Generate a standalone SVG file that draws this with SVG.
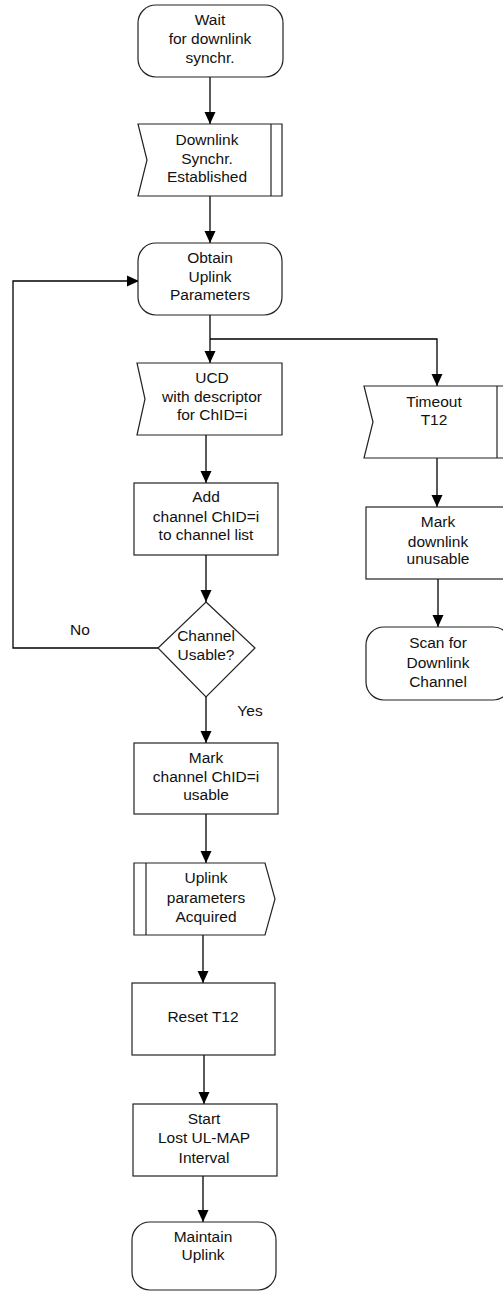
<svg xmlns="http://www.w3.org/2000/svg" width="503" height="1293" viewBox="0 0 503 1293">
<defs>
<style>
.s{fill:#fff;stroke:#222;stroke-width:1.2}
.c{fill:none;stroke:#000;stroke-width:1.3}
text{font-family:"Liberation Sans",Arial,sans-serif;font-size:15.5px;fill:#111;text-anchor:middle}
</style>
<marker id="a" markerWidth="12" markerHeight="12" refX="12" refY="6" orient="auto" markerUnits="userSpaceOnUse">
<path d="M0,0.5 L12,6 L0,11.5 Z" fill="#000"/>
</marker>
</defs>
<rect width="503" height="1293" fill="#fff"/>
<g id="connectors">
<path class="c" d="M210,77 V124" marker-end="url(#a)"/>
<path class="c" d="M210,196 V243" marker-end="url(#a)"/>
<path class="c" d="M210,315 V363" marker-end="url(#a)"/>
<path class="c" d="M210,339 H437 V386" marker-end="url(#a)"/>
<path class="c" d="M206,435 V483" marker-end="url(#a)"/>
<path class="c" d="M206,555 V602" marker-end="url(#a)"/>
<path class="c" d="M206,697 V743" marker-end="url(#a)"/>
<path class="c" d="M158,648 H13 V281 H139" marker-end="url(#a)"/>
<path class="c" d="M206,814 V863" marker-end="url(#a)"/>
<path class="c" d="M203,935 V983" marker-end="url(#a)"/>
<path class="c" d="M204,1055 V1104" marker-end="url(#a)"/>
<path class="c" d="M203,1176 V1222" marker-end="url(#a)"/>
<path class="c" d="M437,458 V507" marker-end="url(#a)"/>
<path class="c" d="M438,579 V627" marker-end="url(#a)"/>
<text x="80" y="635">No</text>
<text x="250" y="716">Yes</text>
</g>
<g id="wait">
<rect class="s" x="138" y="5" width="145" height="72" rx="18"/>
<text x="210" y="25">Wait</text>
<text x="210" y="44">for downlink</text>
<text x="210" y="63">synchr.</text>
</g>
<g id="dlsync">
<path class="s" d="M138,124 H282 V196 H138 L147,160 Z"/>
<path class="s" d="M271,124 V196"/>
<text x="207" y="145">Downlink</text>
<text x="207" y="164">Synchr.</text>
<text x="207" y="182">Established</text>
</g>
<g id="obtain">
<rect class="s" x="138" y="243" width="144" height="72" rx="18"/>
<text x="210" y="263">Obtain</text>
<text x="210" y="282">Uplink</text>
<text x="210" y="300">Parameters</text>
</g>
<g id="ucd">
<path class="s" d="M137,363 H282 V435 H137 L145,399 Z"/>
<text x="212" y="383">UCD</text>
<text x="212" y="402">with descriptor</text>
<text x="212" y="420">for ChID=i</text>
</g>
<g id="add">
<rect class="s" x="134" y="483" width="144" height="72"/>
<text x="206" y="502">Add</text>
<text x="206" y="522">channel ChID=i</text>
<text x="206" y="540">to channel list</text>
</g>
<g id="decision">
<path class="s" d="M206,602 L255,648 L206,697 L158,648 Z"/>
<text x="206" y="641">Channel</text>
<text x="206" y="660">Usable?</text>
</g>
<g id="markusable">
<rect class="s" x="134" y="743" width="144" height="71"/>
<text x="206" y="763">Mark</text>
<text x="206" y="782">channel ChID=i</text>
<text x="206" y="800">usable</text>
</g>
<g id="ulacq">
<path class="s" d="M134,863 H265 L275,899 L265,935 H134 Z"/>
<path class="s" d="M146,863 V935"/>
<text x="206" y="883">Uplink</text>
<text x="206" y="903">parameters</text>
<text x="206" y="922">Acquired</text>
</g>
<g id="reset">
<rect class="s" x="132" y="983" width="143" height="72"/>
<text x="203" y="1022">Reset T12</text>
</g>
<g id="start">
<rect class="s" x="133" y="1104" width="144" height="72"/>
<text x="204" y="1124">Start</text>
<text x="204" y="1143">Lost UL-MAP</text>
<text x="204" y="1163">Interval</text>
</g>
<g id="maintain">
<rect class="s" x="132" y="1222" width="144" height="68" rx="18"/>
<text x="203" y="1242">Maintain</text>
<text x="203" y="1260">Uplink</text>
</g>
<g id="timeout">
<path class="s" d="M364,386 H508 V458 H364 L373,422 Z"/>
<path class="s" d="M497,386 V458"/>
<text x="434" y="407">Timeout</text>
<text x="434" y="425">T12</text>
</g>
<g id="markdl">
<rect class="s" x="366" y="507" width="144" height="72"/>
<text x="438" y="527">Mark</text>
<text x="438" y="547">downlink</text>
<text x="438" y="564">unusable</text>
</g>
<g id="scan">
<rect class="s" x="366" y="627" width="145" height="73" rx="18"/>
<text x="438" y="648">Scan for</text>
<text x="438" y="668">Downlink</text>
<text x="438" y="687">Channel</text>
</g>
</svg>
